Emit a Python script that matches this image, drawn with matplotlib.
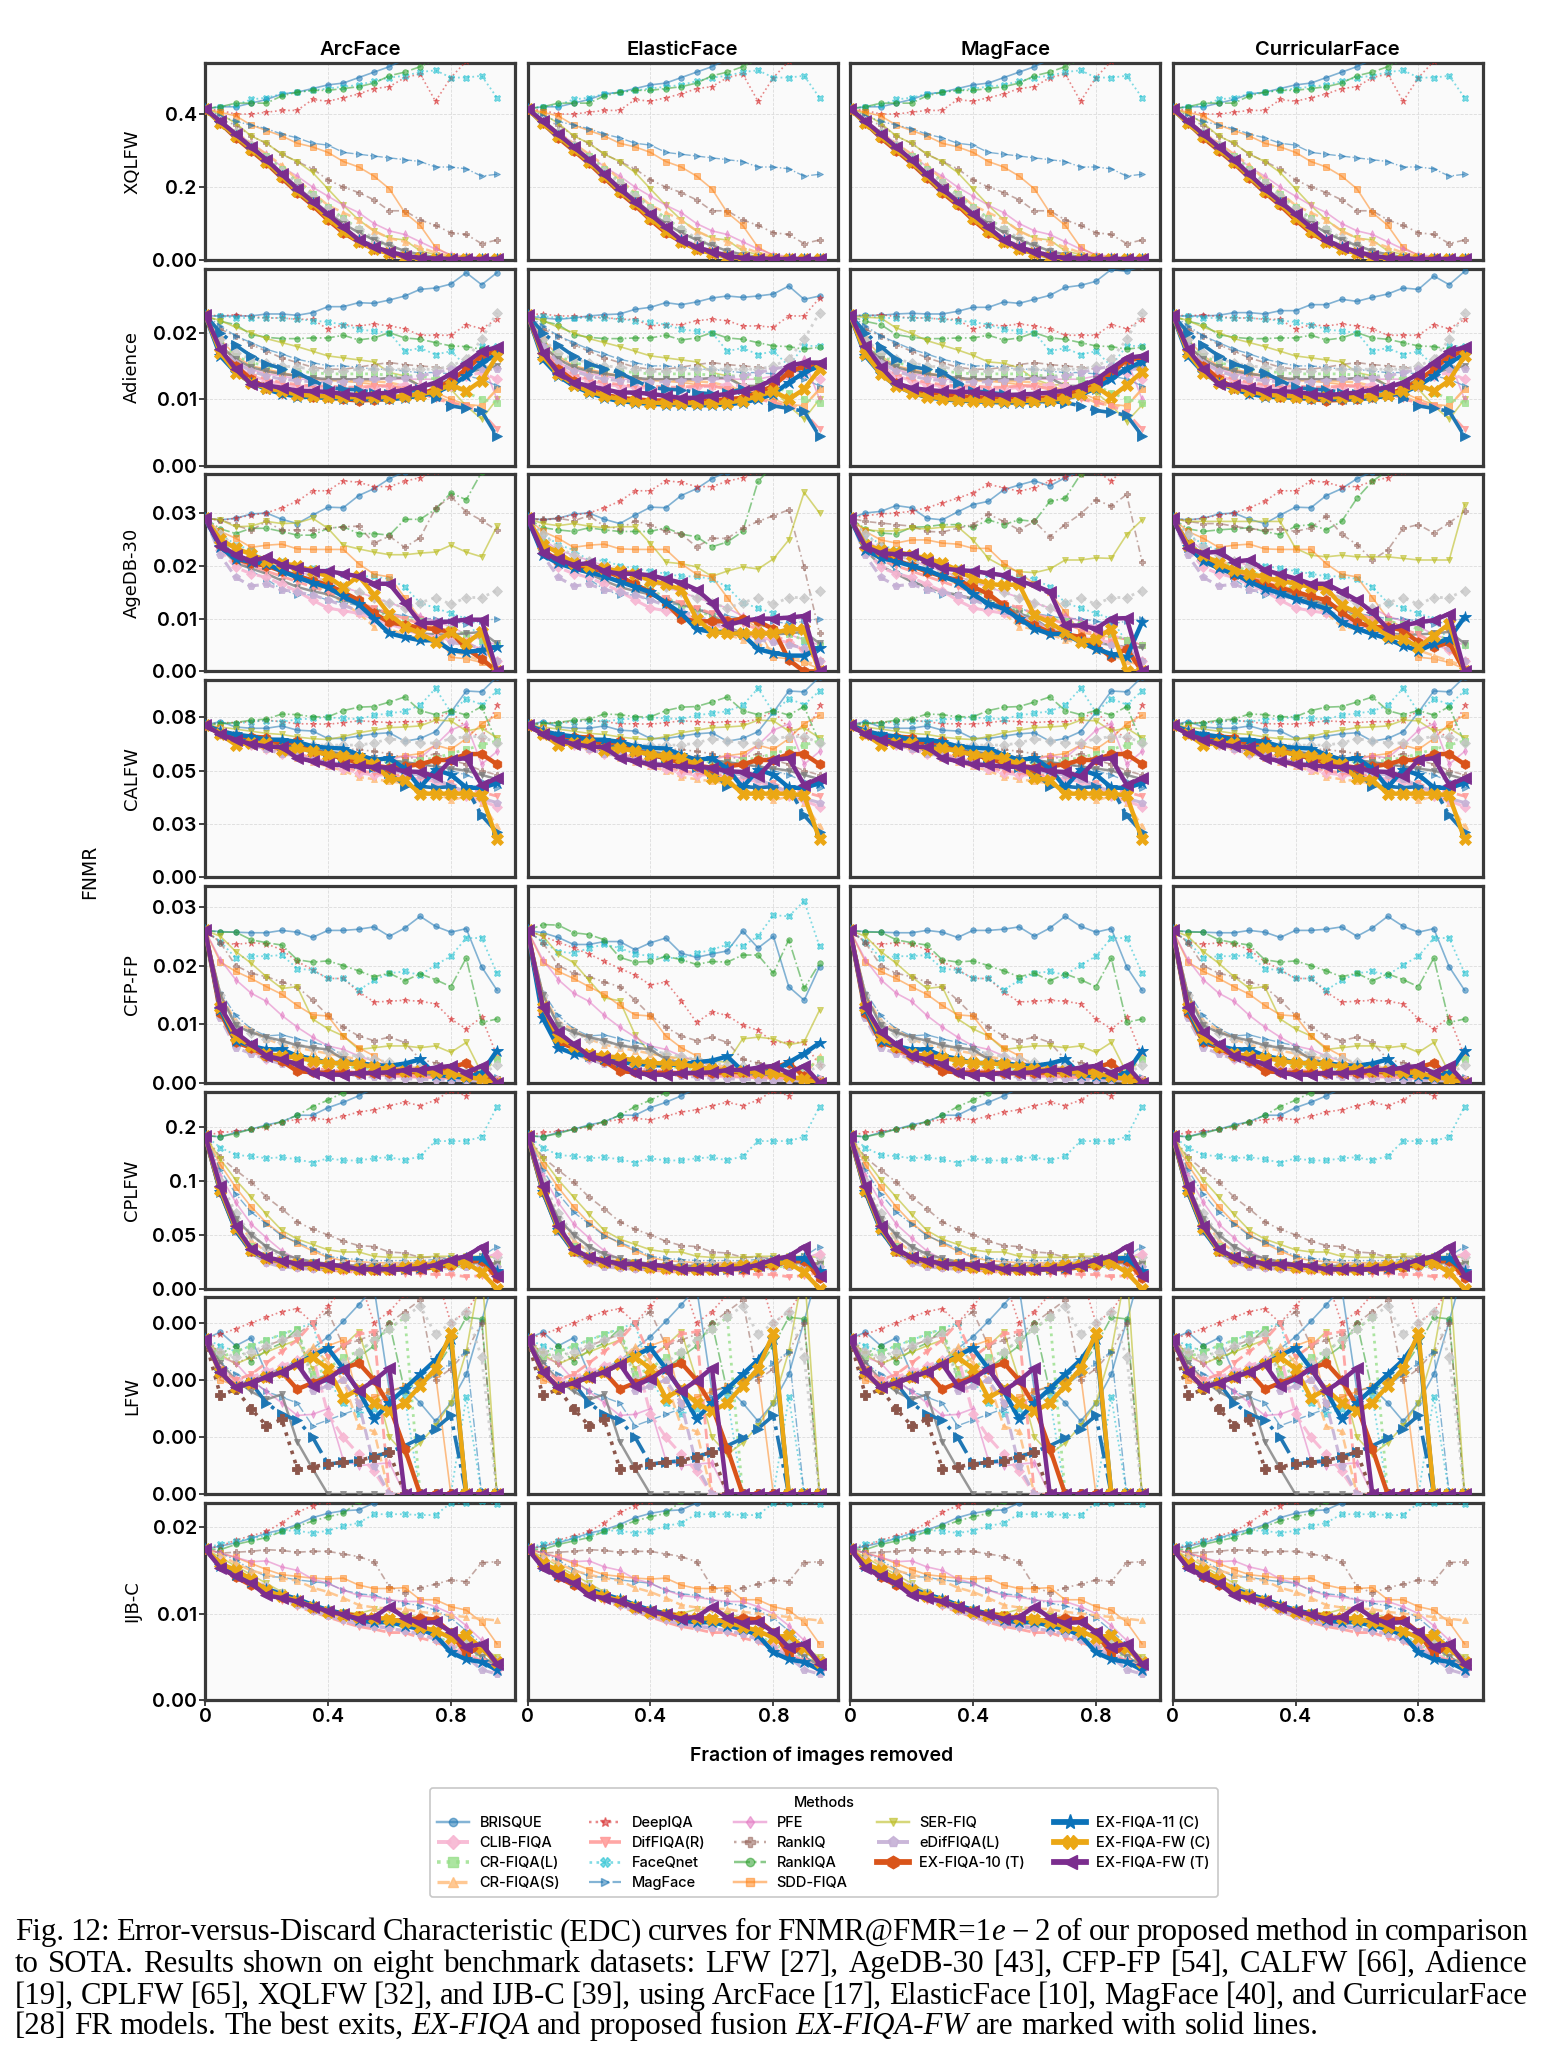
import matplotlib
matplotlib.use('Agg')
import matplotlib.pyplot as plt
from matplotlib.lines import Line2D

# fraction of images removed (x positions of every curve)
removed = [0.0, 0.05, 0.1, 0.15, 0.2, 0.25, 0.3, 0.35, 0.4, 0.45,
           0.5, 0.55, 0.6, 0.65, 0.7, 0.75, 0.8, 0.85, 0.9, 0.95]

models = ['ArcFace', 'ElasticFace', 'MagFace', 'CurricularFace']
datasets = ['XQLFW', 'Adience', 'AgeDB-30', 'CALFW', 'CFP-FP', 'CPLFW', 'LFW', 'IJB-C']

# FNMR values in percent (shared by the other models
# unless an entry in `overrides` below gives that model's own curve)
xqlfw = {
    'BRISQUE': [41.5, 42, 42, 43, 44, 45.5, 46, 47, 48, 48.5, 50, 51.5, 53, 55, 57, 59, 61, 63, 65, 67],
    'CLIB-FIQA': [41.5, 38, 34, 30.5, 27, 23, 19.5, 16, 12.5, 9, 6, 4, 2.5, 1.5, 0.7, 0.4, 0.3, 0.3, 0.3, 0.3],
    'CR-FIQA(L)': [41.5, 38, 35, 31.5, 28.5, 25, 21.5, 18, 14.5, 11.5, 8.5, 5.5, 3.5, 2, 1, 0.5, 0.3, 0.3, 0.3, 0.3],
    'CR-FIQA(S)': [41.5, 38, 35, 32, 29, 26, 22, 18.5, 15, 13, 11, 8, 6, 5, 3.5, 2, 1, 0.5, 0.3, 0.3],
    'DeepIQA': [41.5, 41, 40, 40, 40.5, 41, 41, 44, 43.5, 44.5, 45.5, 47, 47.5, 50, 51, 43.5, 50, 54.5, 57, 58],
    'DifFIQA(R)': [41.5, 37.5, 33.5, 30, 26.5, 23, 19, 15.5, 12, 8.5, 5.5, 3.5, 2, 1, 0.5, 0.3, 0.2, 0.2, 0.2, 0.2],
    'FaceQnet': [41.5, 42, 42.5, 44, 44.5, 45.5, 46, 46.5, 47, 47.5, 48, 49, 50, 50.5, 51.5, 52, 50, 50, 50.5, 44.5],
    'MagFace': [41.5, 39.5, 38, 37, 36, 34.5, 33.5, 32, 31.5, 29.5, 29, 28.5, 28, 27.5, 27, 25.5, 25.5, 25, 23, 23.5],
    'PFE': [41.5, 38, 35, 32, 29, 25.5, 23, 20, 17.5, 15, 13, 10, 8, 7, 5, 3, 1.5, 1, 0.5, 0.5],
    'RankIQ': [41.5, 38.5, 37, 34, 32, 29, 27, 25, 22, 20, 18.5, 16.5, 13.5, 13.5, 11, 9.5, 7.5, 7, 4.5, 5.5],
    'RankIQA': [41.5, 42, 43, 43, 43, 45, 46, 46.5, 46.5, 47, 47.5, 48.5, 50.5, 51.5, 53, 55, 57, 59, 61, 63],
    'SDD-FIQA': [41.5, 40.5, 39.5, 37, 35.5, 34, 32, 31, 29.5, 27, 25.5, 23, 19.5, 13, 9.5, 3.5, 1.2, 0.8, 0.5, 0.5],
    'SER-FIQ': [41.5, 40, 37.5, 34, 32, 29, 27, 24, 19.5, 15, 11, 8, 6, 5.5, 2.5, 1.5, 0.5, 0.5, 0.3, 0.3],
    'eDifFIQA(L)': [41.5, 37.5, 33.5, 30, 26.5, 22.5, 18.5, 15, 11.5, 8, 5, 3, 1.8, 0.9, 0.5, 0.3, 0.2, 0.2, 0.2, 0.2],
    'EX-FIQA-10 (T)': [41.5, 37.5, 33.5, 30, 26.5, 22.5, 18.5, 15, 11, 7.5, 5, 3, 2, 1, 0.5, 0.3, 0.2, 0.2, 0.2, 0.2],
    'EX-FIQA-11 (C)': [41.5, 37.5, 34, 30.5, 27, 23, 19, 15.5, 12, 8.5, 5.5, 3.5, 2, 1, 0.5, 0.3, 0.2, 0.2, 0.2, 0.2],
    'EX-FIQA-FW (C)': [41.5, 37.5, 34, 30.5, 27, 23, 19, 15.5, 11.5, 8, 5, 3, 1.8, 0.9, 0.5, 0.3, 0.2, 0.2, 0.2, 0.2],
    'EX-FIQA-FW (T)': [41.5, 38, 34.5, 31, 27.5, 23.5, 19.5, 16, 12.5, 9, 5.5, 3.5, 2.3, 1.2, 0.6, 0.4, 0.3, 0.3, 0.3, 0.3],
    'gray': [41.5, 37.5, 34, 30.5, 27, 23.5, 20, 16.5, 13, 10, 7.5, 5.5, 4, 2.5, 1.5, 0.8, 0.4, 0.3, 0.3, 0.3],
    'ltgray': [41.5, 38, 35, 31.5, 28, 24.5, 21, 17.5, 14, 11, 8.5, 6, 4, 2.5, 1.5, 0.8, 0.5, 0.3, 0.3, 0.3],
}

adience = {
    'BRISQUE': [2.25, 2.25, 2.25, 2.25, 2.28, 2.28, 2.26, 2.3, 2.39, 2.39, 2.45, 2.44, 2.49, 2.55, 2.65, 2.67, 2.73, 2.9, 2.72, 2.9],
    'CLIB-FIQA': [2.27, 1.75, 1.5, 1.35, 1.28, 1.22, 1.2, 1.18, 1.16, 1.15, 1.15, 1.18, 1.2, 1.22, 1.2, 1.15, 1.2, 1.35, 1.4, 1.3],
    'CR-FIQA(L)': [2.27, 1.85, 1.65, 1.55, 1.5, 1.45, 1.42, 1.4, 1.38, 1.38, 1.38, 1.38, 1.36, 1.35, 1.35, 1.3, 1.2, 1.1, 1.0, 0.95],
    'CR-FIQA(S)': [2.27, 1.8, 1.6, 1.5, 1.42, 1.38, 1.35, 1.32, 1.3, 1.28, 1.27, 1.27, 1.25, 1.2, 1.15, 1.05, 0.95, 0.9, 0.9, 1.15],
    'DeepIQA': [2.27, 2.25, 2.27, 2.24, 2.22, 2.22, 2.2, 2.2, 2.05, 2.12, 2.1, 2.13, 2.1, 2.06, 1.96, 1.96, 1.96, 2.12, 2.06, 2.2],
    'DifFIQA(R)': [2.27, 1.75, 1.5, 1.38, 1.3, 1.25, 1.22, 1.2, 1.2, 1.18, 1.18, 1.2, 1.2, 1.15, 1.1, 1.0, 0.95, 0.9, 0.8, 0.55],
    'FaceQnet': [2.25, 2.25, 2.22, 2.22, 2.22, 2.22, 2.2, 2.18, 2.16, 2.12, 2.05, 2.02, 2.0, 1.72, 1.77, 1.67, 1.72, 1.5, 1.8, 1.8],
    'MagFace': [2.27, 2.1, 1.95, 1.85, 1.75, 1.68, 1.6, 1.55, 1.5, 1.5, 1.48, 1.45, 1.45, 1.42, 1.4, 1.4, 1.38, 1.35, 1.3, 1.2],
    'PFE': [2.27, 1.85, 1.55, 1.45, 1.38, 1.35, 1.3, 1.3, 1.3, 1.3, 1.3, 1.3, 1.3, 1.3, 1.3, 1.3, 1.35, 1.4, 1.6, 1.0],
    'RankIQ': [2.25, 2.05, 1.95, 1.82, 1.72, 1.62, 1.55, 1.48, 1.45, 1.45, 1.48, 1.52, 1.55, 1.52, 1.5, 1.48, 1.45, 1.5, 1.5, 1.48],
    'RankIQA': [2.25, 2.17, 2.12, 1.97, 1.93, 1.91, 1.91, 1.92, 1.92, 1.96, 1.89, 1.92, 2.0, 1.92, 1.9, 1.85, 1.8, 1.79, 1.75, 1.78],
    'SDD-FIQA': [2.27, 1.9, 1.65, 1.5, 1.45, 1.4, 1.35, 1.3, 1.28, 1.27, 1.25, 1.22, 1.2, 1.18, 1.15, 1.1, 1.0, 0.92, 0.9, 1.15],
    'SER-FIQ': [2.25, 2.18, 2.08, 2.0, 1.91, 1.85, 1.79, 1.72, 1.65, 1.62, 1.59, 1.56, 1.4, 1.35, 1.2, 1.2, 1.15, 0.9, 0.7, 1.0],
    'eDifFIQA(L)': [2.27, 1.8, 1.55, 1.42, 1.35, 1.3, 1.28, 1.26, 1.26, 1.26, 1.28, 1.3, 1.3, 1.32, 1.35, 1.4, 1.45, 1.5, 1.45, 1.45],
    'EX-FIQA-10 (T)': [2.27, 1.7, 1.5, 1.3, 1.17, 1.1, 1.06, 1.04, 1.03, 1.0, 0.98, 0.99, 1.0, 1.03, 1.08, 1.15, 1.28, 1.45, 1.65, 1.72],
    'EX-FIQA-11 (C)': [2.27, 1.65, 1.4, 1.25, 1.15, 1.08, 1.04, 1.03, 1.02, 1.01, 1.0, 1.0, 1.0, 1.02, 1.05, 1.1, 1.2, 1.35, 1.55, 1.67],
    'EX-FIQA-FW (C)': [2.27, 1.7, 1.4, 1.25, 1.17, 1.12, 1.07, 1.05, 1.04, 1.03, 1.03, 1.03, 1.03, 1.05, 1.07, 1.12, 1.22, 1.12, 1.28, 1.65],
    'EX-FIQA-FW (T)': [2.27, 1.75, 1.45, 1.23, 1.21, 1.17, 1.13, 1.12, 1.11, 1.08, 1.06, 1.08, 1.1, 1.14, 1.18, 1.25, 1.38, 1.55, 1.72, 1.78],
    'gray': [2.27, 1.8, 1.6, 1.48, 1.42, 1.38, 1.35, 1.32, 1.3, 1.3, 1.3, 1.3, 1.32, 1.32, 1.2, 1.2, 1.3, 1.4, 1.45, 1.5],
    'ltgray': [2.27, 1.9, 1.7, 1.6, 1.55, 1.5, 1.48, 1.45, 1.42, 1.42, 1.45, 1.45, 1.45, 1.45, 1.45, 1.45, 1.5, 1.6, 1.9, 2.3],
    'blue_dd': [2.27, 2.0, 1.81, 1.65, 1.53, 1.46, 1.4, 1.28, 1.18, 1.15, 1.14, 1.1, 1.08, 1.1, 1.15, 1.02, 0.9, 0.86, 0.82, 0.44],
}

agedb = {
    'BRISQUE': [2.9, 2.87, 2.9, 2.98, 3.0, 2.88, 2.8, 2.96, 3.11, 3.1, 3.33, 3.46, 3.65, 3.78, 3.9, 4.0, 4.1, 4.2, 4.3, 4.4],
    'CLIB-FIQA': [2.9, 2.3, 1.97, 1.85, 1.78, 1.65, 1.52, 1.35, 1.2, 1.15, 1.1, 1.0, 0.9, 0.8, 0.7, 0.65, 0.6, 0.55, 0.4, 0.2],
    'CR-FIQA(L)': [2.9, 2.45, 2.2, 2.1, 2.0, 1.9, 1.8, 1.7, 1.55, 1.4, 1.25, 1.15, 1.05, 1.0, 0.95, 0.9, 0.8, 0.7, 0.6, 0.5],
    'CR-FIQA(S)': [2.9, 2.45, 2.2, 2.1, 2.0, 1.9, 1.8, 1.65, 1.5, 1.3, 1.1, 0.85, 0.8, 0.7, 0.6, 0.53, 0.4, 0.3, 0.2, 0.1],
    'DeepIQA': [2.9, 2.86, 2.9, 2.96, 3.0, 3.1, 3.22, 3.42, 3.42, 3.61, 3.58, 3.5, 3.5, 3.6, 3.67, 3.8, 3.9, 3.95, 4.0, 4.1],
    'DifFIQA(R)': [2.9, 2.4, 2.1, 2.0, 1.9, 1.8, 1.7, 1.6, 1.5, 1.4, 1.3, 1.2, 1.1, 1.0, 0.9, 0.8, 0.7, 0.55, 0.4, 0.2],
    'FaceQnet': [2.9, 2.6, 2.4, 2.3, 2.1, 2.1, 2.0, 1.95, 1.9, 1.85, 1.8, 1.8, 1.75, 1.6, 1.3, 1.2, 1.1, 1.0, 0.55, 0.5],
    'MagFace': [2.9, 2.5, 2.2, 1.9, 1.75, 1.55, 1.45, 1.45, 1.35, 1.3, 1.25, 1.2, 1.1, 1.05, 1.0, 1.0, 0.95, 0.9, 0.95, 1.0],
    'PFE': [2.9, 2.5, 2.3, 2.2, 2.1, 2.0, 1.9, 1.8, 1.7, 1.6, 1.5, 1.4, 1.3, 1.2, 1.05, 0.95, 0.85, 0.7, 0.6, 0.5],
    'RankIQ': [2.9, 2.87, 2.77, 2.67, 2.84, 2.67, 2.68, 2.67, 2.71, 2.74, 2.75, 2.43, 2.56, 2.35, 2.53, 3.09, 3.31, 3.02, 2.86, 2.67],
    'RankIQA': [2.9, 2.7, 2.61, 2.71, 2.71, 2.65, 2.58, 2.58, 2.71, 2.74, 2.61, 2.61, 2.58, 2.88, 2.88, 3.07, 3.38, 3.25, 3.77, 4.0],
    'SDD-FIQA': [2.9, 2.65, 2.52, 2.35, 2.39, 2.41, 2.32, 2.31, 2.31, 2.31, 2.04, 1.84, 1.79, 1.4, 1.0, 0.82, 0.27, 0.24, 0.17, 0.05],
    'SER-FIQ': [2.9, 2.87, 2.74, 2.75, 2.84, 2.8, 2.81, 2.9, 2.71, 2.39, 2.32, 2.26, 2.21, 2.21, 2.24, 2.26, 2.39, 2.26, 2.17, 2.75],
    'eDifFIQA(L)': [2.9, 2.2, 1.78, 1.62, 1.65, 1.55, 1.5, 1.45, 1.35, 1.25, 1.15, 1.05, 0.95, 0.8, 0.7, 0.6, 0.55, 0.5, 0.45, 0.2],
    'EX-FIQA-10 (T)': [2.9, 2.4, 2.13, 2.05, 2.0, 1.9, 1.81, 1.72, 1.64, 1.5, 1.35, 1.1, 0.93, 0.88, 0.83, 0.8, 0.75, 0.43, 0.24, 0.0],
    'EX-FIQA-11 (C)': [2.9, 2.35, 2.13, 2.08, 2.04, 1.9, 1.78, 1.68, 1.59, 1.42, 1.27, 1.0, 0.72, 0.65, 0.59, 0.59, 0.4, 0.37, 0.4, 0.46],
    'EX-FIQA-FW (C)': [2.9, 2.5, 2.33, 2.22, 2.09, 2.05, 2.0, 1.9, 1.8, 1.59, 1.81, 1.45, 1.08, 0.85, 0.72, 0.56, 0.75, 0.53, 0.75, 0.0],
    'EX-FIQA-FW (T)': [2.9, 2.38, 2.21, 2.09, 2.16, 2.02, 1.95, 1.9, 1.9, 1.85, 1.8, 1.66, 1.66, 1.3, 0.92, 0.92, 0.95, 0.98, 0.98, 0.0],
    'gray': [2.9, 2.35, 2.05, 1.95, 1.85, 1.72, 1.6, 1.52, 1.46, 1.35, 1.27, 1.18, 1.08, 0.85, 0.72, 0.7, 0.7, 0.72, 0.75, 0.53],
    'ltgray': [2.9, 2.6, 2.35, 2.2, 2.1, 2.0, 1.9, 1.8, 1.7, 1.6, 1.5, 1.4, 1.3, 1.2, 1.3, 1.4, 1.27, 1.4, 1.4, 1.53],
}

calfw = {
    'BRISQUE': [7.15, 7.3, 7.05, 6.99, 6.99, 7.1, 6.9, 6.86, 6.51, 6.51, 6.62, 6.73, 6.78, 6.38, 6.51, 6.83, 7.74, 8.74, 8.7, 9.4],
    'CLIB-FIQA': [7.15, 6.7, 6.4, 6.2, 6.0, 5.8, 5.7, 5.5, 5.3, 5.1, 4.9, 4.8, 4.8, 4.7, 4.6, 4.5, 4.2, 3.8, 3.6, 3.3],
    'CR-FIQA(L)': [7.15, 6.8, 6.5, 6.4, 6.2, 6.1, 6.0, 5.9, 5.8, 5.7, 5.6, 5.5, 5.4, 5.4, 5.5, 5.6, 5.8, 6.0, 6.2, 6.4],
    'CR-FIQA(S)': [7.15, 6.7, 6.4, 6.2, 6.0, 5.8, 5.6, 5.4, 5.2, 5.0, 4.7, 4.6, 4.5, 4.4, 4.0, 4.0, 3.6, 3.8, 3.5, 2.4],
    'DeepIQA': [7.15, 7.25, 7.26, 7.3, 7.37, 7.3, 7.2, 7.2, 7.18, 7.25, 7.34, 7.3, 7.26, 7.3, 7.3, 7.4, 7.8, 7.0, 6.5, 8.07],
    'DifFIQA(R)': [7.15, 6.75, 6.5, 6.3, 6.1, 5.9, 5.8, 5.6, 5.4, 5.2, 5.0, 4.9, 4.8, 4.8, 4.7, 4.6, 4.4, 4.1, 4.0, 3.8],
    'FaceQnet': [7.15, 7.25, 7.2, 7.3, 7.35, 7.3, 7.4, 7.45, 7.5, 7.45, 7.42, 7.6, 7.69, 7.79, 8.07, 8.86, 7.74, 8.38, 8.1, 8.74],
    'MagFace': [7.15, 6.9, 6.7, 6.55, 6.4, 6.3, 6.2, 6.0, 5.9, 5.8, 5.7, 5.6, 5.5, 5.4, 5.3, 5.2, 5.0, 4.8, 4.5, 4.2],
    'PFE': [7.15, 6.9, 6.7, 6.5, 6.3, 6.2, 6.0, 5.9, 5.8, 5.7, 5.6, 5.6, 5.5, 5.7, 5.6, 6.2, 6.9, 7.2, 5.3, 5.9],
    'RankIQ': [7.15, 6.9, 6.7, 6.5, 6.3, 6.2, 6.1, 6.0, 6.0, 6.0, 6.0, 5.9, 5.8, 5.6, 5.6, 5.8, 5.5, 5.3, 5.0, 4.8],
    'RankIQA': [7.15, 7.2, 7.26, 7.37, 7.42, 7.66, 7.63, 7.53, 7.53, 7.82, 7.98, 8.01, 8.22, 8.46, 7.82, 7.63, 7.82, 7.61, 8.01, 6.3],
    'SDD-FIQA': [7.15, 7.0, 6.7, 6.5, 6.3, 6.1, 6.0, 5.9, 5.8, 5.7, 5.5, 5.5, 5.6, 5.7, 5.8, 6.2, 6.0, 6.5, 7.2, 7.6],
    'SER-FIQ': [7.15, 7.05, 6.95, 6.85, 6.75, 6.7, 6.58, 6.5, 6.46, 6.6, 6.78, 6.9, 7.02, 7.05, 7.1, 7.37, 7.34, 6.86, 7.0, 6.54],
    'eDifFIQA(L)': [7.15, 6.7, 6.4, 6.2, 6.0, 5.8, 5.7, 5.5, 5.4, 5.3, 5.2, 5.1, 5.0, 4.9, 4.8, 4.6, 4.3, 4.0, 3.7, 3.5],
    'EX-FIQA-10 (T)': [7.15, 6.75, 6.58, 6.6, 6.55, 6.22, 6.38, 5.94, 5.75, 5.59, 5.35, 5.24, 5.14, 5.2, 5.3, 5.5, 5.5, 5.78, 5.78, 5.3],
    'EX-FIQA-11 (C)': [7.15, 6.85, 6.7, 6.6, 6.46, 6.45, 6.35, 6.14, 6.07, 6.04, 5.75, 5.5, 5.59, 5.1, 4.21, 5.05, 4.81, 4.21, 4.18, 4.42],
    'EX-FIQA-FW (C)': [7.15, 6.7, 6.22, 6.3, 6.3, 5.98, 6.07, 5.91, 5.75, 5.67, 5.59, 5.3, 4.64, 4.56, 3.92, 3.92, 3.92, 3.92, 3.84, 1.78],
    'EX-FIQA-FW (T)': [7.15, 6.7, 6.45, 6.25, 6.14, 6.1, 5.59, 5.45, 5.3, 5.25, 5.2, 5.17, 5.14, 4.97, 4.94, 4.73, 5.5, 5.59, 4.33, 4.64],
    'gray': [7.15, 6.8, 6.6, 6.5, 6.3, 6.2, 6.1, 6.0, 5.9, 5.8, 5.7, 5.6, 5.5, 5.4, 5.3, 5.2, 5.1, 5.0, 4.8, 4.6],
    'ltgray': [7.15, 6.9, 6.7, 6.6, 6.5, 6.4, 6.3, 6.2, 6.2, 6.2, 6.2, 6.3, 6.5, 6.4, 6.3, 6.3, 6.5, 6.6, 6.6, 6.3],
    'blue_dd': [7.15, 6.8, 6.6, 6.45, 6.35, 6.2, 6.05, 5.9, 5.75, 5.55, 5.35, 5.15, 4.9, 4.3, 4.26, 4.2, 4.25, 4.2, 2.9, 2.1],
}

cfpfp = {
    'BRISQUE': [2.6, 2.58, 2.57, 2.56, 2.56, 2.6, 2.57, 2.48, 2.6, 2.6, 2.62, 2.66, 2.5, 2.64, 2.84, 2.67, 2.57, 2.63, 1.98, 1.58],
    'CLIB-FIQA': [2.6, 1.2, 0.75, 0.55, 0.4, 0.35, 0.3, 0.25, 0.2, 0.18, 0.16, 0.14, 0.12, 0.1, 0.1, 0.09, 0.08, 0.07, 0.06, 0.05],
    'CR-FIQA(L)': [2.6, 1.2, 0.7, 0.6, 0.5, 0.45, 0.4, 0.35, 0.3, 0.28, 0.26, 0.24, 0.22, 0.2, 0.18, 0.17, 0.16, 0.15, 0.2, 0.4],
    'CR-FIQA(S)': [2.6, 1.5, 1.05, 0.9, 0.75, 0.65, 0.6, 0.55, 0.5, 0.45, 0.4, 0.35, 0.3, 0.28, 0.25, 0.22, 0.2, 0.15, 0.12, 0.46],
    'DeepIQA': [2.6, 2.4, 2.36, 2.39, 2.37, 2.27, 2.07, 1.93, 1.78, 1.78, 1.55, 1.38, 1.39, 1.41, 1.39, 1.35, 1.09, 0.92, 1.12, 0.46],
    'DifFIQA(R)': [2.6, 1.2, 0.75, 0.55, 0.42, 0.35, 0.3, 0.25, 0.22, 0.2, 0.18, 0.16, 0.14, 0.12, 0.1, 0.09, 0.08, 0.07, 0.06, 0.05],
    'FaceQnet': [2.6, 2.41, 2.13, 2.16, 2.16, 2.18, 1.95, 1.92, 1.78, 1.78, 1.58, 1.75, 1.87, 1.9, 1.84, 2.01, 2.16, 2.47, 2.47, 1.87],
    'MagFace': [2.6, 1.55, 1.15, 0.92, 0.8, 0.82, 0.75, 0.69, 0.63, 0.46, 0.34, 0.3, 0.25, 0.2, 0.18, 0.15, 0.12, 0.1, 0.1, 0.1],
    'PFE': [2.6, 2.1, 1.76, 1.53, 1.39, 1.15, 0.95, 0.78, 0.63, 0.57, 0.46, 0.37, 0.29, 0.22, 0.18, 0.14, 0.12, 0.1, 0.08, 0.06],
    'RankIQ': [2.6, 2.39, 2.0, 1.87, 1.81, 1.72, 1.64, 1.41, 1.15, 0.95, 0.8, 0.72, 0.78, 0.69, 0.4, 0.34, 0.29, 0.2, 0.11, 0.06],
    'RankIQA': [2.6, 2.57, 2.57, 2.44, 2.39, 2.35, 2.1, 2.06, 2.08, 2.0, 1.91, 1.81, 1.87, 1.74, 1.86, 1.76, 1.64, 2.13, 1.03, 1.09],
    'SDD-FIQA': [2.6, 2.06, 1.9, 1.78, 1.64, 1.51, 1.32, 1.16, 1.14, 0.8, 0.6, 0.46, 0.29, 0.23, 0.17, 0.14, 0.12, 0.1, 0.08, 0.05],
    'SER-FIQ': [2.6, 2.5, 2.24, 2.04, 1.81, 1.61, 1.64, 1.09, 0.92, 0.8, 0.57, 0.6, 0.63, 0.63, 0.6, 0.63, 0.52, 0.69, 0.17, 0.06],
    'eDifFIQA(L)': [2.6, 1.1, 0.6, 0.5, 0.4, 0.32, 0.28, 0.22, 0.18, 0.15, 0.12, 0.1, 0.08, 0.07, 0.06, 0.05, 0.04, 0.04, 0.03, 0.03],
    'EX-FIQA-10 (T)': [2.6, 1.2, 0.69, 0.6, 0.46, 0.37, 0.2, 0.18, 0.17, 0.17, 0.16, 0.17, 0.17, 0.18, 0.18, 0.2, 0.26, 0.34, 0.11, 0.0],
    'EX-FIQA-11 (C)': [2.6, 1.25, 0.72, 0.63, 0.57, 0.57, 0.46, 0.41, 0.34, 0.34, 0.34, 0.3, 0.29, 0.33, 0.4, 0.14, 0.11, 0.09, 0.17, 0.55],
    'EX-FIQA-FW (C)': [2.6, 1.3, 0.78, 0.63, 0.49, 0.46, 0.43, 0.38, 0.34, 0.33, 0.32, 0.27, 0.23, 0.21, 0.2, 0.18, 0.17, 0.11, 0.06, 0.0],
    'EX-FIQA-FW (T)': [2.6, 1.29, 0.86, 0.66, 0.46, 0.4, 0.32, 0.17, 0.14, 0.14, 0.17, 0.17, 0.18, 0.22, 0.22, 0.26, 0.29, 0.17, 0.29, 0.0],
    'gray': [2.6, 1.5, 0.98, 0.86, 0.78, 0.72, 0.64, 0.6, 0.57, 0.4, 0.34, 0.3, 0.25, 0.2, 0.15, 0.12, 0.1, 0.08, 0.08, 0.06],
    'ltgray': [2.6, 1.5, 1.0, 0.85, 0.75, 0.7, 0.65, 0.6, 0.55, 0.5, 0.45, 0.4, 0.35, 0.3, 0.28, 0.25, 0.2, 0.18, 0.15, 0.3],
}

cplfw = {
    'BRISQUE': [14.2, 14.1, 14.5, 14.8, 15.2, 15.5, 16.1, 16.1, 16.8, 17.3, 17.9, 18.6, 19.5, 20, 21, 22, 23, 24, 25, 26],
    'CLIB-FIQA': [14.2, 9.0, 5.5, 3.5, 2.5, 2.2, 2.0, 1.9, 1.8, 1.7, 1.7, 1.7, 1.7, 1.8, 1.9, 2.0, 2.1, 2.2, 2.5, 3.2],
    'CR-FIQA(L)': [14.2, 9.5, 6.0, 4.0, 3.0, 2.5, 2.2, 2.0, 1.9, 1.8, 1.8, 1.8, 1.8, 1.8, 1.9, 2.0, 2.0, 2.1, 2.2, 2.3],
    'CR-FIQA(S)': [14.2, 9.5, 6.5, 4.5, 3.4, 2.8, 2.5, 2.3, 2.2, 2.2, 2.2, 2.2, 2.2, 2.3, 2.3, 2.4, 2.5, 2.6, 2.4, 2.3],
    'DeepIQA': [14.2, 14.5, 14.6, 14.8, 15.0, 15.5, 15.7, 15.8, 15.7, 16.0, 16.4, 16.6, 17.0, 17.3, 17.0, 17.5, 18.4, 17.9, 19, 20],
    'DifFIQA(R)': [14.2, 9.0, 5.5, 3.4, 2.5, 2.1, 1.9, 1.8, 1.7, 1.6, 1.5, 1.5, 1.5, 1.4, 1.4, 1.3, 1.3, 1.1, 1.2, 1.5],
    'FaceQnet': [14.2, 13.1, 12.4, 12.3, 12.1, 12.2, 12.0, 11.7, 12.1, 11.9, 11.9, 12.1, 12.2, 11.9, 12.3, 13.7, 13.7, 13.7, 14.1, 16.9],
    'MagFace': [14.2, 11.0, 8.8, 7.1, 6.0, 4.9, 4.3, 3.7, 3.0, 2.8, 2.7, 2.6, 2.6, 2.6, 2.6, 2.7, 2.8, 2.9, 3.0, 3.9],
    'PFE': [14.2, 10.5, 8.0, 6.0, 4.7, 3.5, 2.7, 2.4, 2.3, 2.2, 2.2, 2.1, 2.1, 2.2, 2.3, 2.3, 2.4, 2.6, 2.8, 3.3],
    'RankIQ': [14.2, 12.2, 11.0, 9.9, 8.5, 7.4, 6.2, 5.5, 5.0, 4.4, 4.0, 3.9, 3.4, 3.3, 2.9, 2.9, 2.8, 2.8, 2.7, 2.6],
    'RankIQA': [14.2, 14.1, 14.4, 14.8, 15.1, 15.5, 16.1, 16.9, 17.5, 18.2, 19, 20, 21, 22, 23, 24, 25, 26, 27, 28],
    'SDD-FIQA': [14.2, 11.5, 9.4, 7.6, 6.1, 5.0, 4.2, 3.5, 2.9, 2.6, 2.5, 2.4, 2.4, 2.4, 2.4, 2.5, 2.5, 2.5, 2.4, 2.3],
    'SER-FIQ': [14.2, 12.0, 10.1, 8.5, 6.9, 5.4, 4.6, 4.1, 3.6, 3.4, 3.4, 3.0, 2.9, 2.9, 2.9, 3.0, 3.0, 3.0, 3.0, 2.9],
    'eDifFIQA(L)': [14.2, 9.0, 5.3, 3.3, 2.4, 2.0, 1.9, 1.8, 1.8, 1.8, 1.8, 1.8, 1.8, 1.8, 1.8, 1.9, 1.9, 2.0, 2.2, 2.0],
    'EX-FIQA-10 (T)': [14.2, 9.0, 5.5, 3.5, 2.8, 2.5, 2.3, 2.2, 2.0, 1.9, 1.8, 1.7, 1.7, 1.8, 1.8, 2.0, 2.2, 2.5, 2.6, 1.0],
    'EX-FIQA-11 (C)': [14.2, 9.0, 5.4, 3.5, 2.8, 2.5, 2.3, 2.2, 2.0, 1.9, 1.8, 1.8, 1.8, 1.8, 1.9, 2.1, 2.4, 2.8, 2.8, 1.6],
    'EX-FIQA-FW (C)': [14.2, 9.2, 5.6, 3.6, 2.8, 2.5, 2.3, 2.2, 2.0, 1.9, 1.8, 1.8, 1.8, 2.0, 2.2, 2.2, 2.4, 2.4, 1.5, 0.0],
    'EX-FIQA-FW (T)': [14.2, 9.5, 5.8, 3.7, 2.9, 2.6, 2.3, 2.3, 2.2, 2.1, 1.8, 1.8, 1.8, 1.8, 1.9, 2.2, 2.7, 3.0, 3.9, 1.2],
    'gray': [14.2, 9.5, 6.5, 5.0, 3.9, 3.2, 2.8, 2.5, 2.3, 2.2, 2.1, 2.1, 2.0, 2.0, 2.1, 2.1, 2.2, 2.3, 2.4, 2.3],
    'ltgray': [14.2, 10, 7, 5, 3.8, 3.0, 2.6, 2.4, 2.3, 2.3, 2.3, 2.3, 2.3, 2.4, 2.4, 2.5, 2.6, 2.7, 2.8, 2.9],
}

lfw = {
    'BRISQUE': [0.272, 0.284, 0.26, 0.274, 0.211, 0.22, 0.234, 0.255, 0.276, 0.303, 0.332, 0.362, 0.181, 0.187, 0.16, 0.128, 0.16, 0.21, 0.303, 0.4],
    'CLIB-FIQA': [0.272, 0.22, 0.2, 0.205, 0.215, 0.225, 0.235, 0.245, 0.14, 0.1, 0.07, 0.04, 0.0, 0.0, 0.0, 0.0, 0.0, 0.0, 0.0, 0.0],
    'CR-FIQA(L)': [0.272, 0.24, 0.25, 0.26, 0.27, 0.28, 0.29, 0.21, 0.22, 0.24, 0.25, 0.27, 0.29, 0.31, 0.0, 0.0, 0.0, 0.0, 0.0, 0.0],
    'CR-FIQA(S)': [0.272, 0.214, 0.19, 0.2, 0.21, 0.22, 0.23, 0.26, 0.23, 0.2, 0.119, 0.11, 0.0, 0.0, 0.0, 0.0, 0.0, 0.0, 0.0, 0.0],
    'DeepIQA': [0.272, 0.28, 0.29, 0.3, 0.31, 0.32, 0.325, 0.3, 0.33, 0.36, 0.38, 0.3, 0.32, 0.35, 0.37, 0.39, 0.3, 0.32, 0.36, 0.4],
    'DifFIQA(R)': [0.272, 0.22, 0.2, 0.21, 0.23, 0.25, 0.27, 0.3, 0.24, 0.26, 0.28, 0.285, 0.0, 0.0, 0.0, 0.0, 0.0, 0.0, 0.0, 0.0],
    'FaceQnet': [0.272, 0.26, 0.25, 0.26, 0.27, 0.28, 0.29, 0.3, 0.2, 0.16, 0.14, 0.15, 0.16, 0.17, 0.0, 0.0, 0.0, 0.17, 0.0, 0.0],
    'MagFace': [0.272, 0.23, 0.21, 0.2, 0.18, 0.17, 0.16, 0.12, 0.13, 0.14, 0.15, 0.16, 0.17, 0.18, 0.19, 0.21, 0.23, 0.25, 0.0, 0.0],
    'PFE': [0.272, 0.24, 0.23, 0.2, 0.18, 0.16, 0.138, 0.14, 0.15, 0.06, 0.05, 0.053, 0.055, 0.0, 0.0, 0.0, 0.0, 0.0, 0.0, 0.0],
    'RankIQ': [0.272, 0.25, 0.23, 0.24, 0.26, 0.27, 0.28, 0.3, 0.32, 0.26, 0.27, 0.28, 0.3, 0.32, 0.34, 0.2, 0.22, 0.25, 0.3, 0.0],
    'RankIQA': [0.272, 0.246, 0.26, 0.232, 0.252, 0.265, 0.29, 0.2, 0.21, 0.22, 0.24, 0.26, 0.3, 0.18, 0.2, 0.22, 0.26, 0.31, 0.307, 0.0],
    'SDD-FIQA': [0.272, 0.2, 0.19, 0.2, 0.21, 0.22, 0.23, 0.25, 0.26, 0.27, 0.16, 0.17, 0.18, 0.19, 0.2, 0.21, 0.0, 0.0, 0.0, 0.0],
    'SER-FIQ': [0.272, 0.245, 0.228, 0.24, 0.249, 0.26, 0.27, 0.22, 0.24, 0.26, 0.285, 0.2, 0.1, 0.07, 0.09, 0.12, 0.16, 0.25, 0.4, 0.0],
    'eDifFIQA(L)': [0.272, 0.21, 0.19, 0.2, 0.21, 0.22, 0.23, 0.18, 0.19, 0.2, 0.16, 0.05, 0.0, 0.0, 0.0, 0.0, 0.0, 0.0, 0.0, 0.0],
    'EX-FIQA-10 (T)': [0.272, 0.214, 0.187, 0.195, 0.205, 0.214, 0.184, 0.195, 0.205, 0.22, 0.23, 0.2, 0.155, 0.08, 0.0, 0.0, 0.0, 0.0, 0.0, 0.0],
    'EX-FIQA-11 (C)': [0.272, 0.214, 0.187, 0.195, 0.205, 0.214, 0.228, 0.243, 0.256, 0.22, 0.181, 0.132, 0.16, 0.185, 0.21, 0.235, 0.272, 0.0, 0.0, 0.0],
    'EX-FIQA-FW (C)': [0.272, 0.214, 0.187, 0.195, 0.205, 0.214, 0.228, 0.24, 0.22, 0.169, 0.184, 0.16, 0.145, 0.16, 0.19, 0.22, 0.282, 0.0, 0.0, 0.0],
    'EX-FIQA-FW (T)': [0.272, 0.214, 0.187, 0.195, 0.205, 0.214, 0.228, 0.19, 0.202, 0.22, 0.181, 0.199, 0.221, 0.0, 0.0, 0.0, 0.0, 0.0, 0.0, 0.0],
    'gray': [0.272, 0.23, 0.2, 0.18, 0.166, 0.175, 0.092, 0.045, 0.0, 0.0, 0.0, 0.0, 0.0, 0.0, 0.0, 0.0, 0.0, 0.0, 0.0, 0.0],
    'ltgray': [0.272, 0.25, 0.24, 0.25, 0.26, 0.27, 0.28, 0.2, 0.21, 0.23, 0.25, 0.27, 0.29, 0.31, 0.33, 0.28, 0.3, 0.32, 0.24, 0.0],
    'blue_dd': [0.272, 0.214, 0.187, 0.195, 0.16, 0.14, 0.13, 0.1, 0.053, 0.056, 0.059, 0.066, 0.074, 0.085, 0.098, 0.115, 0.138, 0.0, 0.0, 0.0],
    'brown_dd': [0.272, 0.173, 0.184, 0.15, 0.12, 0.131, 0.045, 0.048, 0.053, 0.056, 0.059, 0.066, 0.074, 0.0, 0.0, 0.0, 0.0, 0.0, 0.0, 0.0],
}

ijbc = {
    'BRISQUE': [1.75, 1.78, 1.82, 1.87, 1.93, 1.97, 2.03, 2.11, 2.16, 2.19, 2.2, 2.28, 2.35, 2.4, 2.45, 2.5, 2.55, 2.6, 2.65, 2.7],
    'CLIB-FIQA': [1.75, 1.6, 1.48, 1.4, 1.3, 1.2, 1.12, 1.05, 1.0, 0.95, 0.9, 0.87, 0.83, 0.8, 0.78, 0.72, 0.62, 0.55, 0.45, 0.35],
    'CR-FIQA(L)': [1.75, 1.6, 1.48, 1.38, 1.28, 1.2, 1.12, 1.05, 1.0, 0.95, 0.9, 0.88, 0.86, 0.84, 0.8, 0.75, 0.65, 0.55, 0.5, 0.45],
    'CR-FIQA(S)': [1.75, 1.68, 1.58, 1.5, 1.45, 1.41, 1.38, 1.3, 1.25, 1.18, 1.1, 1.07, 1.06, 1.05, 1.02, 1.0, 0.98, 0.96, 0.94, 0.92],
    'DeepIQA': [1.75, 1.78, 1.85, 1.9, 1.95, 2.05, 2.17, 2.25, 2.3, 2.4, 2.5, 2.6, 2.7, 2.8, 2.9, 3.0, 3.1, 3.2, 3.3, 3.4],
    'DifFIQA(R)': [1.75, 1.58, 1.45, 1.35, 1.25, 1.15, 1.08, 1.02, 0.96, 0.9, 0.85, 0.82, 0.78, 0.78, 0.72, 0.67, 0.6, 0.52, 0.45, 0.38],
    'FaceQnet': [1.75, 1.81, 1.84, 1.87, 1.9, 1.96, 1.96, 1.93, 1.96, 2.01, 2.05, 2.15, 2.15, 2.15, 2.14, 2.14, 2.28, 2.28, 2.3, 2.27],
    'MagFace': [1.75, 1.7, 1.62, 1.51, 1.43, 1.42, 1.39, 1.37, 1.35, 1.27, 1.23, 1.21, 1.16, 1.12, 1.09, 1.04, 0.95, 0.8, 0.65, 0.46],
    'PFE': [1.75, 1.7, 1.65, 1.6, 1.61, 1.54, 1.5, 1.4, 1.35, 1.27, 1.21, 1.19, 1.16, 1.14, 1.14, 1.08, 1.0, 0.86, 0.69, 0.4],
    'RankIQ': [1.75, 1.7, 1.71, 1.72, 1.74, 1.73, 1.71, 1.72, 1.72, 1.69, 1.66, 1.6, 1.31, 1.24, 1.3, 1.34, 1.39, 1.37, 1.59, 1.6],
    'RankIQA': [1.75, 1.74, 1.8, 1.84, 1.88, 1.95, 2.01, 2.07, 2.12, 2.16, 2.3, 2.4, 2.5, 2.6, 2.7, 2.8, 2.9, 3.0, 3.1, 3.2],
    'SDD-FIQA': [1.75, 1.7, 1.65, 1.58, 1.51, 1.45, 1.43, 1.41, 1.4, 1.41, 1.33, 1.29, 1.29, 1.3, 1.16, 1.16, 1.08, 1.04, 0.9, 0.65],
    'SER-FIQ': [1.75, 1.65, 1.55, 1.45, 1.35, 1.25, 1.15, 1.1, 1.05, 1.02, 1.0, 1.05, 1.04, 1.0, 0.95, 0.9, 0.8, 0.7, 0.6, 0.5],
    'eDifFIQA(L)': [1.75, 1.58, 1.45, 1.35, 1.27, 1.18, 1.1, 1.03, 0.97, 0.92, 0.88, 0.85, 0.83, 0.8, 0.76, 0.7, 0.6, 0.5, 0.35, 0.3],
    'EX-FIQA-10 (T)': [1.75, 1.55, 1.42, 1.33, 1.25, 1.19, 1.14, 1.08, 1.03, 1.0, 0.97, 0.95, 0.92, 0.92, 0.95, 0.93, 0.78, 0.53, 0.62, 0.42],
    'EX-FIQA-11 (C)': [1.75, 1.55, 1.45, 1.36, 1.29, 1.22, 1.17, 1.1, 1.04, 1.0, 0.92, 0.9, 0.9, 0.86, 0.82, 0.75, 0.55, 0.47, 0.44, 0.35],
    'EX-FIQA-FW (C)': [1.75, 1.58, 1.5, 1.4, 1.27, 1.2, 1.15, 1.08, 1.02, 0.98, 0.96, 0.95, 0.94, 0.9, 0.85, 0.8, 0.72, 0.75, 0.6, 0.44],
    'EX-FIQA-FW (T)': [1.75, 1.53, 1.43, 1.35, 1.21, 1.18, 1.14, 1.08, 1.03, 0.99, 0.94, 0.96, 1.08, 0.95, 0.89, 0.9, 0.79, 0.61, 0.65, 0.42],
    'gray': [1.75, 1.6, 1.48, 1.38, 1.28, 1.2, 1.13, 1.07, 1.02, 0.98, 0.95, 0.92, 0.9, 0.88, 0.85, 0.8, 0.72, 0.62, 0.5, 0.4],
    'ltgray': [1.75, 1.62, 1.5, 1.4, 1.32, 1.24, 1.17, 1.1, 1.05, 1.0, 0.96, 0.93, 0.9, 0.88, 0.85, 0.8, 0.72, 0.65, 0.55, 0.45],
}

panel_data = [xqlfw, adience, agedb, calfw, cfpfp, cplfw, lfw, ijbc]

# curves that differ visibly in the other FR-model columns
overrides = {
    ('Adience', 'ElasticFace'): {
        'BRISQUE': [2.25, 2.22, 2.2, 2.22, 2.25, 2.27, 2.28, 2.35, 2.38, 2.45, 2.42, 2.46, 2.52, 2.55, 2.53, 2.55, 2.58, 2.7, 2.5, 2.55],
        'DeepIQA': [2.27, 2.28, 2.25, 2.25, 2.23, 2.23, 2.2, 2.2, 2.1, 2.12, 2.12, 2.18, 2.2, 2.18, 2.1, 2.1, 2.08, 2.25, 2.25, 2.52],
        'EX-FIQA-10 (T)': [2.27, 1.65, 1.45, 1.28, 1.15, 1.07, 1.02, 1.0, 0.98, 0.98, 0.97, 0.97, 0.98, 1.0, 1.02, 1.1, 1.2, 1.4, 1.5, 1.52],
        'EX-FIQA-11 (C)': [2.27, 1.6, 1.35, 1.2, 1.1, 1.02, 0.97, 0.95, 0.93, 0.92, 0.92, 0.91, 0.91, 0.92, 0.95, 1.0, 1.08, 1.25, 1.4, 1.5],
        'EX-FIQA-FW (C)': [2.27, 1.65, 1.38, 1.22, 1.12, 1.05, 1.0, 0.97, 0.95, 0.94, 0.94, 0.94, 0.94, 0.95, 0.98, 1.05, 1.12, 1.0, 1.15, 1.45],
        'EX-FIQA-FW (T)': [2.27, 1.7, 1.4, 1.25, 1.2, 1.15, 1.1, 1.1, 1.08, 1.05, 1.02, 1.02, 1.05, 1.08, 1.12, 1.18, 1.3, 1.5, 1.55, 1.55],
    },
    ('Adience', 'MagFace'): {
        'BRISQUE': [2.25, 2.26, 2.26, 2.28, 2.29, 2.28, 2.28, 2.32, 2.38, 2.38, 2.46, 2.44, 2.5, 2.56, 2.68, 2.71, 2.77, 2.95, 2.92, 3.0],
        'SER-FIQ': [2.25, 2.23, 2.22, 2.07, 1.99, 1.88, 1.81, 1.74, 1.66, 1.56, 1.54, 1.47, 1.3, 1.22, 1.21, 1.16, 1.1, 0.91, 0.66, 0.91],
        'blue_dd': [2.27, 2.0, 1.79, 1.6, 1.49, 1.45, 1.41, 1.25, 1.13, 1.1, 1.08, 1.0, 0.96, 0.96, 0.95, 0.9, 0.83, 0.8, 0.76, 0.45],
        'EX-FIQA-10 (T)': [2.27, 1.7, 1.42, 1.25, 1.13, 1.1, 1.08, 1.05, 1.03, 1.02, 1.01, 1.01, 1.01, 1.03, 1.07, 1.13, 1.21, 1.39, 1.59, 1.61],
        'EX-FIQA-11 (C)': [2.27, 1.65, 1.38, 1.2, 1.1, 1.03, 1.0, 0.98, 0.97, 0.96, 0.95, 0.95, 0.96, 0.98, 1.01, 1.07, 1.16, 1.3, 1.46, 1.56],
        'EX-FIQA-FW (C)': [2.27, 1.68, 1.38, 1.2, 1.1, 1.04, 1.01, 0.99, 0.98, 0.97, 0.97, 0.97, 0.98, 0.99, 1.01, 1.08, 1.19, 1.03, 1.21, 1.41],
        'EX-FIQA-FW (T)': [2.27, 1.8, 1.49, 1.24, 1.17, 1.14, 1.12, 1.11, 1.11, 1.08, 1.06, 1.07, 1.08, 1.1, 1.13, 1.2, 1.29, 1.46, 1.62, 1.65],
    },
    ('Adience', 'CurricularFace'): {
        'BRISQUE': [2.25, 2.25, 2.25, 2.26, 2.3, 2.3, 2.28, 2.33, 2.33, 2.42, 2.42, 2.5, 2.47, 2.53, 2.58, 2.67, 2.65, 2.85, 2.72, 2.92],
    },
    ('AgeDB-30', 'ElasticFace'): {
        'SER-FIQ': [2.9, 2.8, 2.76, 2.8, 2.75, 2.72, 2.74, 2.74, 2.42, 2.07, 2.04, 1.98, 1.8, 1.9, 1.98, 1.94, 2.13, 2.49, 3.39, 3.0],
        'RankIQ': [2.9, 2.88, 2.9, 2.85, 2.95, 2.75, 2.7, 2.85, 2.77, 2.65, 2.6, 2.36, 2.52, 2.52, 2.71, 2.84, 2.95, 3.06, 1.97, 0.72],
        'RankIQA': [2.9, 2.72, 2.68, 2.65, 2.72, 2.68, 2.65, 2.65, 2.65, 2.72, 2.6, 2.55, 2.36, 2.45, 2.65, 3.6, 3.9, 4.0, 4.1, 4.2],
        'EX-FIQA-10 (T)': [2.9, 2.3, 2.1, 2.0, 1.95, 1.9, 1.8, 1.65, 1.5, 1.3, 1.0, 0.95, 0.95, 0.95, 1.0, 0.95, 0.8, 0.22, 0.0, 0.0],
        'EX-FIQA-11 (C)': [2.9, 2.2, 2.05, 1.95, 1.88, 1.8, 1.7, 1.6, 1.5, 1.3, 1.1, 0.8, 0.75, 0.75, 0.7, 0.42, 0.35, 0.3, 0.3, 0.45],
        'EX-FIQA-FW (C)': [2.9, 2.4, 2.25, 2.05, 2.0, 1.95, 1.9, 1.85, 1.72, 1.65, 1.55, 1.0, 0.75, 0.72, 0.72, 0.72, 0.72, 0.8, 0.8, 0.0],
        'EX-FIQA-FW (T)': [2.9, 2.25, 2.12, 2.02, 2.05, 1.9, 1.85, 1.85, 1.82, 1.75, 1.68, 1.55, 1.3, 0.88, 0.95, 1.0, 1.0, 1.02, 1.05, 0.0],
    },
    ('AgeDB-30', 'MagFace'): {
        'BRISQUE': [2.9, 3.0, 3.03, 3.14, 3.1, 2.9, 2.87, 3.02, 3.16, 3.22, 3.44, 3.53, 3.61, 3.51, 3.67, 3.79, 3.9, 4.0, 4.1, 4.2],
        'DeepIQA': [2.9, 2.95, 2.98, 3.0, 3.03, 3.1, 3.19, 3.28, 3.38, 3.54, 3.48, 3.41, 3.48, 3.6, 3.68, 3.74, 3.8, 3.6, 3.9, 4.0],
        'RankIQA': [2.9, 2.7, 2.62, 2.6, 2.73, 2.74, 2.78, 2.78, 2.73, 2.87, 2.78, 2.87, 2.84, 3.22, 3.28, 3.73, 3.9, 4.0, 4.1, 4.2],
        'SER-FIQ': [2.9, 2.68, 2.66, 2.66, 2.71, 2.7, 2.73, 2.74, 2.49, 2.14, 1.98, 1.89, 1.87, 1.94, 2.11, 2.11, 2.15, 2.14, 2.59, 2.87],
        'RankIQ': [2.9, 2.84, 2.81, 2.78, 2.75, 2.65, 2.64, 2.71, 2.78, 2.98, 2.84, 2.68, 2.84, 2.55, 2.78, 2.98, 3.25, 3.13, 3.35, 2.08],
        'SDD-FIQA': [2.9, 2.65, 2.49, 2.43, 2.49, 2.49, 2.43, 2.41, 2.33, 2.33, 2.05, 1.86, 1.66, 1.51, 1.12, 0.74, 0.68, 0.65, 0.6, 0.5],
        'gray': [2.9, 2.3, 2.0, 1.85, 1.7, 1.6, 1.51, 1.45, 1.38, 1.3, 1.25, 1.1, 1.0, 0.8, 0.62, 0.6, 0.55, 0.5, 0.46, 0.46],
        'EX-FIQA-10 (T)': [2.9, 2.35, 2.2, 2.11, 2.0, 1.89, 1.8, 1.73, 1.6, 1.47, 1.25, 1.0, 0.87, 0.74, 0.71, 0.65, 0.49, 0.27, 0.43, 0.0],
        'EX-FIQA-11 (C)': [2.9, 2.3, 2.15, 2.08, 2.0, 1.92, 1.8, 1.7, 1.47, 1.28, 1.19, 1.0, 0.81, 0.71, 0.71, 0.55, 0.43, 0.33, 0.27, 0.93],
        'EX-FIQA-FW (C)': [2.9, 2.4, 2.3, 2.27, 2.2, 2.14, 2.05, 1.92, 1.76, 1.66, 1.63, 1.65, 1.06, 0.93, 0.74, 0.55, 0.62, 0.81, 0.0, 0.0],
        'EX-FIQA-FW (T)': [2.9, 2.36, 2.24, 2.22, 2.22, 2.08, 1.95, 1.92, 1.9, 1.86, 1.82, 1.71, 1.63, 1.51, 0.87, 0.87, 0.81, 1.0, 1.01, 0.0],
    },
    ('AgeDB-30', 'CurricularFace'): {
        'SER-FIQ': [2.9, 2.84, 2.84, 2.84, 2.84, 2.84, 2.84, 2.84, 2.33, 2.2, 2.17, 2.2, 2.17, 2.17, 2.17, 2.14, 2.11, 2.11, 2.11, 3.16],
        'RankIQ': [2.9, 2.84, 2.8, 2.8, 2.75, 2.7, 2.68, 2.7, 2.65, 2.72, 2.94, 2.6, 2.4, 2.11, 2.3, 2.71, 2.78, 2.62, 2.81, 3.03],
        'RankIQA': [2.9, 2.7, 2.65, 2.68, 2.7, 2.72, 2.65, 2.59, 2.75, 2.78, 2.68, 2.84, 3.28, 3.6, 3.8, 4.0, 4.1, 4.2, 4.3, 4.4],
        'EX-FIQA-10 (T)': [2.9, 2.4, 2.15, 2.0, 1.82, 1.75, 1.66, 1.58, 1.51, 1.42, 1.35, 1.12, 0.93, 0.84, 0.84, 0.78, 0.55, 0.46, 0.55, 0.0],
        'EX-FIQA-11 (C)': [2.9, 2.35, 2.1, 1.95, 1.85, 1.7, 1.57, 1.48, 1.38, 1.28, 1.19, 0.93, 0.81, 0.71, 0.62, 0.49, 0.39, 0.52, 0.62, 1.03],
        'EX-FIQA-FW (C)': [2.9, 2.4, 2.2, 2.05, 1.92, 1.85, 1.78, 1.72, 1.66, 1.6, 1.57, 1.25, 1.12, 0.87, 0.68, 0.62, 0.46, 0.68, 0.9, 0.0],
        'EX-FIQA-FW (T)': [2.9, 2.33, 2.24, 2.27, 2.08, 2.11, 1.92, 1.84, 1.76, 1.66, 1.66, 1.51, 1.35, 1.12, 0.81, 0.87, 0.93, 0.97, 1.09, 0.0],
    },
    ('CFP-FP', 'ElasticFace'): {
        'BRISQUE': [2.6, 2.56, 2.48, 2.36, 2.36, 2.41, 2.41, 2.27, 2.39, 2.47, 2.21, 2.14, 2.2, 2.25, 2.59, 2.3, 2.5, 1.64, 1.41, 1.98],
        'FaceQnet': [2.6, 2.4, 2.24, 2.21, 2.3, 2.36, 2.3, 2.2, 2.16, 2.13, 2.13, 2.21, 2.27, 2.36, 2.33, 2.5, 2.86, 2.84, 3.1, 2.33],
        'RankIQA': [2.6, 2.7, 2.69, 2.56, 2.53, 2.44, 2.14, 2.06, 2.07, 2.16, 2.1, 2.02, 2.07, 2.06, 2.18, 2.18, 1.87, 2.44, 1.61, 2.04],
        'DeepIQA': [2.6, 2.5, 2.4, 2.3, 2.2, 2.07, 1.95, 1.84, 1.67, 1.72, 1.4, 1.03, 1.21, 1.15, 0.98, 0.9, 0.69, 0.69, 0.69, 0.3],
        'SER-FIQ': [2.6, 2.5, 2.2, 2.05, 1.75, 1.45, 1.4, 0.82, 0.5, 0.45, 0.42, 0.4, 0.38, 0.35, 0.75, 0.78, 0.75, 0.65, 0.7, 1.24],
        'EX-FIQA-11 (C)': [2.6, 1.1, 0.6, 0.5, 0.45, 0.4, 0.35, 0.33, 0.3, 0.3, 0.32, 0.35, 0.38, 0.45, 0.2, 0.18, 0.2, 0.35, 0.5, 0.68],
    },
}

# y axis (percent) per dataset row: upper limit, ticks, tick labels as printed
y_top = [54, 2.96, 3.73, 9.25, 3.36, 18.3, 0.345, 2.28]
y_ticks = [[0, 20, 40], [0, 1, 2], [0, 1, 2, 3], [0, 2.5, 5, 7.5],
           [0, 1, 2, 3], [0, 5, 10, 15], [0, 0.1, 0.2, 0.3], [0, 1, 2]]
y_labels = [['0.00', '0.2', '0.4'], ['0.00', '0.01', '0.02'],
            ['0.00', '0.01', '0.02', '0.03'], ['0.00', '0.03', '0.05', '0.08'],
            ['0.00', '0.01', '0.02', '0.03'], ['0.00', '0.05', '0.1', '0.2'],
            ['0.00', '0.00', '0.00', '0.00'], ['0.00', '0.01', '0.02']]

methods = ['BRISQUE', 'CLIB-FIQA', 'CR-FIQA(L)', 'CR-FIQA(S)', 'DeepIQA', 'DifFIQA(R)',
           'FaceQnet', 'MagFace', 'PFE', 'RankIQ', 'RankIQA', 'SDD-FIQA', 'SER-FIQ',
           'eDifFIQA(L)', 'EX-FIQA-10 (T)', 'EX-FIQA-11 (C)', 'EX-FIQA-FW (C)', 'EX-FIQA-FW (T)']

styles = {
    'BRISQUE': dict(color='#1f77b4', ls='-', marker='o', lw=1.2, ms=4, alpha=0.55),
    'CLIB-FIQA': dict(color='#f7b6d2', ls='--', marker='D', lw=2.2, ms=5, alpha=0.9),
    'CR-FIQA(L)': dict(color='#98df8a', ls=':', marker='s', lw=2.0, ms=5, alpha=0.8),
    'CR-FIQA(S)': dict(color='#ffbb78', ls='--', marker='^', lw=1.8, ms=5, alpha=0.8),
    'DeepIQA': dict(color='#d62728', ls=':', marker='*', lw=1.2, ms=5, alpha=0.55),
    'DifFIQA(R)': dict(color='#ff9896', ls='--', marker='v', lw=2.0, ms=5, alpha=0.85),
    'FaceQnet': dict(color='#17becf', ls=':', marker='X', lw=1.3, ms=5, alpha=0.55),
    'MagFace': dict(color='#1f77b4', ls='-.', marker='>', lw=1.0, ms=4, alpha=0.55),
    'PFE': dict(color='#e377c2', ls='-', marker='d', lw=1.2, ms=4, alpha=0.55),
    'RankIQ': dict(color='#8c564b', ls=(0, (1, 2, 4, 2)), marker='P', lw=1.2, ms=4.5, alpha=0.5),
    'RankIQA': dict(color='#2ca02c', ls='-.', marker='o', lw=1.2, ms=4, alpha=0.55),
    'SDD-FIQA': dict(color='#ff7f0e', ls='-', marker='s', lw=1.2, ms=4, alpha=0.5),
    'SER-FIQ': dict(color='#bcbd22', ls='-', marker='v', lw=1.2, ms=4, alpha=0.6),
    'eDifFIQA(L)': dict(color='#c5b0d5', ls='--', marker='p', lw=2.2, ms=6, alpha=0.9),
    'EX-FIQA-10 (T)': dict(color='#d9541a', ls='-', marker='h', lw=3.2, ms=7, alpha=1),
    'EX-FIQA-11 (C)': dict(color='#0b72b9', ls='-', marker='*', lw=3.2, ms=9, alpha=1),
    'EX-FIQA-FW (C)': dict(color='#eba714', ls='-', marker='X', lw=3.2, ms=8, alpha=1),
    'EX-FIQA-FW (T)': dict(color='#7b2d8e', ls='-', marker='<', lw=3.2, ms=8, alpha=1),
    # curves drawn in the panels but not in the legend
    'gray': dict(color='#7f7f7f', ls='-', marker='v', lw=1.8, ms=4, alpha=0.8),
    'ltgray': dict(color='#c7c7c7', ls=':', marker='D', lw=2.0, ms=5, alpha=0.8),
    'blue_dd': dict(color='#1f77b4', ls='-.', marker='>', lw=2.6, ms=7, alpha=1),
    'brown_dd': dict(color='#8c564b', ls=':', marker='P', lw=2.6, ms=7, alpha=1),
}

draw_order = ['BRISQUE', 'DeepIQA', 'FaceQnet', 'RankIQA', 'RankIQ', 'SER-FIQ', 'SDD-FIQA',
              'MagFace', 'PFE', 'CR-FIQA(S)', 'CR-FIQA(L)', 'ltgray', 'gray', 'CLIB-FIQA',
              'DifFIQA(R)', 'eDifFIQA(L)', 'blue_dd', 'brown_dd',
              'EX-FIQA-10 (T)', 'EX-FIQA-11 (C)', 'EX-FIQA-FW (C)', 'EX-FIQA-FW (T)']

tick_font = 'Inter'
narrow = ['Liberation Sans Narrow', 'DejaVu Sans']

fig = plt.figure(figsize=(15.43, 20.71), dpi=100)
gs = fig.add_gridspec(8, 4, left=205 / 1543, right=1483 / 1543,
                      top=1 - 63 / 2071, bottom=1 - 1700 / 2071,
                      wspace=0.039, hspace=0.044)

for r, ds in enumerate(datasets):
    for c, model in enumerate(models):
        data = dict(panel_data[r])
        data.update(overrides.get((ds, model), {}))
        ax = fig.add_subplot(gs[r, c])
        ax.set_facecolor('#fafafa')
        for name in draw_order:
            if name not in data:
                continue
            st = styles[name]
            z = 5 if name.startswith('EX-') else 3
            ax.plot(removed, data[name], color=st['color'], ls=st['ls'], lw=st['lw'],
                    marker=st['marker'], ms=st['ms'], alpha=st['alpha'],
                    markeredgewidth=0.6, zorder=z)
        ax.set_xlim(0, 1.01)
        ax.set_ylim(0, y_top[r])
        ax.set_xticks([0, 0.4, 0.8])
        ax.set_yticks(y_ticks[r])
        ax.grid(True, ls='--', lw=0.6, color='#dcdcdc', zorder=0)
        for sp in ax.spines.values():
            sp.set_linewidth(2.3)
            sp.set_color('#3a3a3a')
        ax.tick_params(axis='both', length=4, width=1.3, color='#333333',
                       labelsize=14, pad=2)
        if r == len(datasets) - 1:
            ax.set_xticklabels(['0', '0.4', '0.8'], fontfamily=tick_font,
                               fontweight='semibold')
        else:
            ax.tick_params(axis='x', length=0, labelbottom=False)
        if c == 0:
            ax.set_yticklabels(y_labels[r], fontfamily=tick_font, fontweight='semibold')
        else:
            ax.tick_params(axis='y', length=0, labelleft=False)
        if r == 0:
            ax.set_title(model, fontsize=14.5, fontfamily=tick_font,
                         fontweight='semibold', pad=6)
        if c == 0:
            pos = ax.get_position()
            fig.text(132 / 1543, (pos.y0 + pos.y1) / 2, ds, rotation=90,
                     ha='center', va='center', fontsize=13, family=narrow)

fig.text(90 / 1543, 1 - 872 / 2071, 'FNMR', rotation=90, ha='center', va='center',
         fontsize=13.5, family=narrow)
fig.text(822 / 1543, 1 - 1756 / 2071, 'Fraction of images removed', ha='center',
         va='center', fontsize=14, fontfamily=tick_font, fontweight='semibold')

handles = []
for name in methods:
    st = styles[name]
    handles.append(Line2D([], [], color=st['color'], ls=st['ls'],
                          lw=st['lw'] * 1.3 if name.startswith('EX-') else st['lw'] + 0.6,
                          marker=st['marker'], ms=st['ms'] + 2, alpha=st['alpha']))
leg = fig.legend(handles, methods, loc='upper center', ncol=5,
                 bbox_to_anchor=(824 / 1543, 1 - 1781 / 2071), title='Methods',
                 prop={'family': tick_font, 'weight': 'medium', 'size': 10.5},
                 title_fontproperties={'family': tick_font, 'weight': 'medium', 'size': 10.5},
                 frameon=True, fancybox=True, edgecolor='#c8c8c8', framealpha=1,
                 handlelength=2.2, handletextpad=0.7, columnspacing=2.0,
                 labelspacing=0.42, borderpad=0.5)
leg.get_frame().set_linewidth(1.2)

# caption, justified line by line
caption = [
    [[('Fig.', 'normal')], [('12:', 'normal')], [('Error-versus-Discard', 'normal')],
     [('Characteristic', 'normal')], [('(EDC)', 'normal')], [('curves', 'normal')],
     [('for', 'normal')], [('FNMR@FMR=1', 'normal'), ('e', 'italic')], [('\u2212', 'normal')],
     [('2', 'normal')], [('of', 'normal')], [('our', 'normal')], [('proposed', 'normal')],
     [('method', 'normal')], [('in', 'normal')], [('comparison', 'normal')]],
    [[(w, 'normal')] for w in 'to SOTA. Results shown on eight benchmark datasets: LFW [27], AgeDB-30 [43], CFP-FP [54], CALFW [66], Adience'.split()],
    [[(w, 'normal')] for w in '[19], CPLFW [65], XQLFW [32], and IJB-C [39], using ArcFace [17], ElasticFace [10], MagFace [40], and CurricularFace'.split()],
    [[('[28]', 'normal')], [('FR', 'normal')], [('models.', 'normal')], [('The', 'normal')],
     [('best', 'normal')], [('exits,', 'normal')], [('EX-FIQA', 'italic')], [('and', 'normal')],
     [('proposed', 'normal')], [('fusion', 'normal')], [('EX-FIQA-FW', 'italic')],
     [('are', 'normal')], [('marked', 'normal')], [('with', 'normal')], [('solid', 'normal')],
     [('lines.', 'normal')]],
]
cap_base = [1940, 1972, 2004, 2034]
cap_left, cap_right = 15, 1528
cap_size = 22.2

renderer = fig.canvas.get_renderer()
W = fig.bbox.width
H = fig.bbox.height


def token_width(tok, place_x=None, y=None):
    total = 0
    for txt, sty in tok:
        t = fig.text((place_x + total) / W if place_x is not None else 0,
                     y if y is not None else 0, txt, fontsize=cap_size,
                     family='Liberation Serif', style=sty, va='baseline', ha='left')
        w = t.get_window_extent(renderer).width
        if place_x is None:
            t.remove()
        total += w
    return total


space_w = token_width([('a b', 'normal')]) - token_width([('ab', 'normal')])
for i, line in enumerate(caption):
    widths = [token_width(tok) for tok in line]
    if i < len(caption) - 1:
        gap = (cap_right - cap_left - sum(widths)) / (len(line) - 1)
    else:
        gap = space_w
    x = cap_left
    yb = 1 - cap_base[i] / H
    for tok, w in zip(line, widths):
        token_width(tok, place_x=x, y=yb)
        x += w + gap

fig.savefig('out.png', dpi=100)
